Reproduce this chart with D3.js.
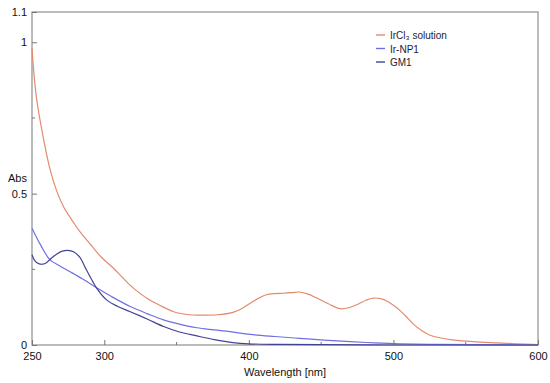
<!DOCTYPE html>
<html>
<head>
<meta charset="utf-8">
<script src="https://cdn.jsdelivr.net/npm/d3@7"></script>
<style>
  body { margin: 0; background: #fff; }
  svg { font-family: "Liberation Sans", Arial, sans-serif; }
</style>
</head>
<body>
<svg width="550" height="383"></svg>
<script>
// IrCl3 solution
const irclWl  = [250, 253, 258, 262.5, 267, 272, 278, 283, 290, 298, 306, 312, 318, 324, 330, 338, 348, 359, 366, 378, 389, 395, 401, 407, 412, 418, 424, 430, 435, 441, 447, 455, 463, 469, 475, 481, 486, 491, 495, 500, 505, 510, 514, 520, 525, 533, 541, 555, 571, 585, 600];
const irclAbs = [0.98, 0.82, 0.68, 0.58, 0.51, 0.455, 0.41, 0.375, 0.335, 0.29, 0.255, 0.226, 0.197, 0.173, 0.153, 0.132, 0.11, 0.1, 0.099, 0.1, 0.108, 0.12, 0.138, 0.155, 0.166, 0.17, 0.171, 0.173, 0.175, 0.168, 0.155, 0.136, 0.12, 0.123, 0.134, 0.148, 0.155, 0.153, 0.146, 0.131, 0.112, 0.088, 0.068, 0.046, 0.033, 0.023, 0.017, 0.011, 0.007, 0.004, 0.001];

// Ir-NP1
const npWl  = [250, 256, 262.5, 269, 276, 285, 295, 305, 318, 330, 341, 352, 364, 376, 387, 401, 418, 435, 452, 470, 487, 504, 530, 560, 600];
const npAbs = [0.386, 0.33, 0.281, 0.262, 0.243, 0.218, 0.188, 0.16, 0.127, 0.103, 0.083, 0.069, 0.057, 0.05, 0.044, 0.035, 0.028, 0.022, 0.016, 0.011, 0.007, 0.004, 0.002, 0.001, 0];

// GM1
const gmWl  = [250, 252, 255, 257.5, 260, 263, 267, 271, 276, 279, 283, 288, 294.7, 301.6, 309, 318, 330, 341, 352, 364, 376, 389, 400, 420, 450, 500, 550, 600];
const gmAbs = [0.298, 0.278, 0.268, 0.267, 0.272, 0.285, 0.3, 0.31, 0.312, 0.307, 0.29, 0.245, 0.188, 0.149, 0.128, 0.11, 0.085, 0.061, 0.043, 0.03, 0.018, 0.008, 0.004, 0.002, 0.001, 0, 0, 0];

const seriesNames  = ["IrCl\u2083 solution", "Ir-NP1", "GM1"];
const seriesColors = ["#e38a6c", "#6f6fe3", "#434395"];
const xTicks = [250, 300, 400, 500, 600];
const xMinor = [350, 450, 550];
const yTicks = [0, 0.5, 1, 1.1];
const yMinor = [0.25, 0.75];

const svg = d3.select("svg");
const margin = {top: 12, right: 12, bottom: 38, left: 32};
const width = +svg.attr("width") - margin.left - margin.right;
const height = +svg.attr("height") - margin.top - margin.bottom;
const g = svg.append("g").attr("transform", `translate(${margin.left},${margin.top})`);

const x = d3.scaleLinear().domain([250, 600]).range([0, width]);
const y = d3.scaleLinear().domain([0, 1.1]).range([height, 0]);

const line = d3.line()
    .x(d => x(d[0]))
    .y(d => y(d[1]))
    .curve(d3.curveCatmullRom.alpha(0.5));

const data = [
    d3.zip(irclWl, irclAbs),
    d3.zip(npWl, npAbs),
    d3.zip(gmWl, gmAbs)
];

// frame
g.append("rect")
    .attr("width", width)
    .attr("height", height)
    .attr("fill", "none")
    .attr("stroke", "#999")
    .attr("stroke-width", 1.3);

// ticks (inward)
const xAxis = g.append("g")
    .attr("transform", `translate(0,${height})`)
    .call(d3.axisBottom(x).tickValues(xTicks).tickSize(-5).tickPadding(7).tickFormat(d3.format("d")));
xAxis.append("g").selectAll("line")
    .data(xMinor).join("line")
    .attr("x1", d => x(d)).attr("x2", d => x(d))
    .attr("y1", 0).attr("y2", -3)
    .attr("stroke", "#777");

const yAxis = g.append("g")
    .call(d3.axisLeft(y).tickValues(yTicks).tickSize(-5).tickPadding(5).tickFormat(d => d === 0 ? "0" : d3.format("")(d)));
yAxis.append("g").selectAll("line")
    .data(yMinor).join("line")
    .attr("x1", 0).attr("x2", 3)
    .attr("y1", d => y(d)).attr("y2", d => y(d))
    .attr("stroke", "#777");

[xAxis, yAxis].forEach(a => {
    a.select(".domain").remove();
    a.selectAll(".tick line").attr("stroke", "#777");
    a.selectAll("text").attr("font-size", 11).attr("fill", "#111");
});

// curves
g.selectAll(".series")
    .data(data)
    .join("path")
    .attr("class", "series")
    .attr("fill", "none")
    .attr("stroke", (d, i) => seriesColors[i])
    .attr("stroke-width", 1.2)
    .attr("d", line);

// axis labels
svg.append("text")
    .attr("x", margin.left + width / 2)
    .attr("y", 376)
    .attr("text-anchor", "middle")
    .attr("font-size", 11)
    .attr("fill", "#111")
    .text("Wavelength [nm]");

svg.append("text")
    .attr("x", 8)
    .attr("y", 182)
    .attr("font-size", 11)
    .attr("fill", "#111")
    .text("Abs");

// legend
const legend = svg.append("g").attr("transform", "translate(376,35)");
seriesNames.forEach((name, i) => {
    const row = legend.append("g").attr("transform", `translate(0,${i * 13.5})`);
    row.append("line")
        .attr("x1", 0).attr("x2", 9)
        .attr("stroke", seriesColors[i])
        .attr("stroke-width", 1.4);
    row.append("text")
        .attr("x", 14)
        .attr("y", 4)
        .attr("font-size", 10)
        .attr("fill", "#223")
        .text(name);
});
</script>
</body>
</html>
